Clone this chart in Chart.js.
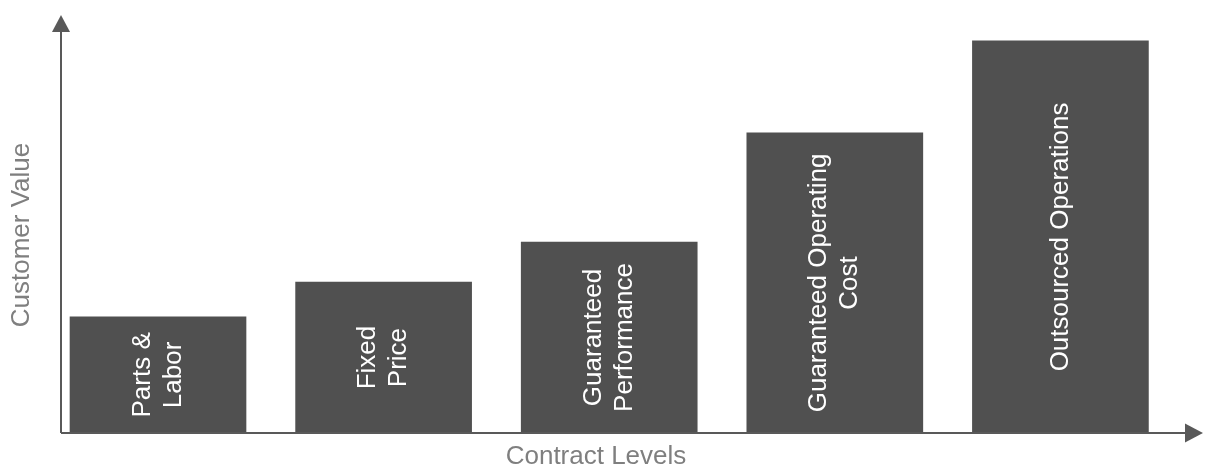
<!DOCTYPE html>
<html>
<head>
<meta charset="utf-8">
<script src="https://cdn.jsdelivr.net/npm/chart.js@4"></script>
<style>
  html, body { margin: 0; padding: 0; background: #fff; }
  #chart { display: block; }
</style>
</head>
<body>
<canvas id="chart" width="1212" height="471"></canvas>
<script>
// contract levels, bottom to top of the value ladder
const categories = [
  ['Parts &', 'Labor'],
  ['Fixed', 'Price'],
  ['Guaranteed', 'Performance'],
  ['Guaranteed Operating', 'Cost'],
  ['Outsourced Operations']
];
// customer value on a 0-100 scale (axis tip = 100)
const customerValue = [27.8, 36.1, 45.7, 71.8, 93.8];
const xTitle = 'Contract Levels';
const yTitle = 'Customer Value';

const FONT = '"Liberation Sans", Arial, sans-serif';
const AXIS_COLOR = '#595959';

// arrows, axis titles and the rotated labels inside each bar
const decorations = {
  id: 'decorations',
  afterDatasetsDraw(chart) {
    const { ctx, chartArea } = chart;
    const left = chartArea.left, bottom = chartArea.bottom;
    ctx.save();

    // axis lines
    ctx.strokeStyle = AXIS_COLOR;
    ctx.lineWidth = 2;
    ctx.beginPath();
    ctx.moveTo(left, bottom);
    ctx.lineTo(left, chartArea.top + 14);
    ctx.moveTo(left, bottom);
    ctx.lineTo(chartArea.right - 14, bottom);
    ctx.stroke();

    // arrow heads
    ctx.fillStyle = AXIS_COLOR;
    ctx.beginPath();
    ctx.moveTo(left, chartArea.top);
    ctx.lineTo(left - 9, chartArea.top + 17);
    ctx.lineTo(left + 9, chartArea.top + 17);
    ctx.closePath();
    ctx.fill();
    ctx.beginPath();
    ctx.moveTo(chartArea.right, bottom);
    ctx.lineTo(chartArea.right - 18, bottom - 9.5);
    ctx.lineTo(chartArea.right - 18, bottom + 9.5);
    ctx.closePath();
    ctx.fill();

    // axis titles
    ctx.fillStyle = '#7f7f7f';
    ctx.font = '26px ' + FONT;
    ctx.textAlign = 'center';
    ctx.textBaseline = 'middle';
    ctx.fillText(xTitle, 596, bottom + 24);
    ctx.save();
    ctx.translate(22, 235);
    ctx.rotate(-Math.PI / 2);
    ctx.fillText(yTitle, 0, 0);
    ctx.restore();

    // bar labels
    const meta = chart.getDatasetMeta(0);
    ctx.fillStyle = '#ffffff';
    meta.data.forEach((bar, i) => {
      const lines = categories[i];
      const cx = bar.x;
      const cy = (bar.y + bar.base) / 2;
      const lh = 31;
      ctx.save();
      ctx.translate(cx, cy);
      ctx.rotate(-Math.PI / 2);
      lines.forEach((line, j) => {
        ctx.fillText(line, 0, (j - (lines.length - 1) / 2) * lh);
      });
      ctx.restore();
    });

    ctx.restore();
  }
};

new Chart(document.getElementById('chart'), {
  type: 'bar',
  data: {
    datasets: [{
      label: yTitle,
      data: customerValue.map((v, i) => ({ x: i, y: v })),
      backgroundColor: '#505050',
      borderWidth: 0,
      barThickness: 176
    }]
  },
  options: {
    responsive: false,
    animation: false,
    events: [],
    layout: { padding: { left: 61, top: 15, right: 9, bottom: 38 } },
    scales: {
      x: { type: 'linear', min: -0.43, max: 4.632, offset: false, display: false },
      y: { min: 0, max: 100, display: false }
    },
    plugins: {
      legend: { display: false },
      tooltip: { enabled: false }
    }
  },
  plugins: [decorations]
});
</script>
</body>
</html>
